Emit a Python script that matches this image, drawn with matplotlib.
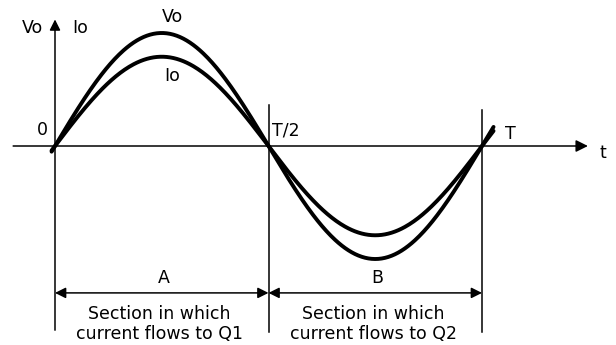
import numpy as np
import matplotlib
matplotlib.use("Agg")
import matplotlib.pyplot as plt

# waveform values (one period T = 1)
period = 1.0
amp_vo = 1.0
amp_io = 0.79
t_start, t_end = -0.008, 1.027

# section labels
sections = ["A", "B"]
section_text = ["Section in which\ncurrent flows to Q1",
                "Section in which\ncurrent flows to Q2"]
time_marks = ["0", "T/2", "T"]

plt.rcParams['font.family'] = ['DejaVu Sans']

fig = plt.figure(figsize=(6.16, 3.45), dpi=100)
ax = fig.add_axes([0, 0, 1, 1])
ax.set_xlim(-0.1288, 1.3138)
ax.set_ylim(-1.761, 1.292)
ax.axis("off")

t = np.linspace(t_start, t_end, 400)
vo = amp_vo * np.sin(2 * np.pi * t / period)
io = amp_io * np.sin(2 * np.pi * t / period)
ax.plot(t, vo, color="black", lw=2.8, solid_capstyle="round")
ax.plot(t, io, color="black", lw=2.8, solid_capstyle="round")

# axes with arrows
ax.annotate("", xy=(1.248, 0), xytext=(-0.098, 0),
            arrowprops=dict(arrowstyle="-|>", color="black", lw=1.1,
                            mutation_scale=18, shrinkA=0, shrinkB=0))
ax.annotate("", xy=(0, 1.12), xytext=(0, -1.63),
            arrowprops=dict(arrowstyle="-|>", color="black", lw=1.1,
                            mutation_scale=16, shrinkA=0, shrinkB=0))

# vertical markers at T/2 and T
ax.plot([0.5 * period, 0.5 * period], [0.363, -1.65], color="black", lw=1.1)
ax.plot([period, period], [0.32, -1.65], color="black", lw=1.1)

# section dimension arrows
y_dim = -1.30
bounds = [(0, 0.5 * period), (0.5 * period, period)]
for (a, b), lab, txt in zip(bounds, sections, section_text):
    ax.annotate("", xy=(b, y_dim), xytext=(a, y_dim),
                arrowprops=dict(arrowstyle="<|-|>", color="black", lw=1.1,
                                mutation_scale=16, shrinkA=0, shrinkB=0))
    mid = (a + b) / 2
    ax.text(mid + 0.005, y_dim + 0.135, lab, ha="center", va="center",
            fontsize=12.5)
    ax.text(mid - 0.005, -1.575, txt, ha="center", va="center",
            fontsize=12.5, linespacing=1.08)

fs = 12.5
ax.text(-0.052, 1.04, "Vo", ha="center", va="center", fontsize=fs)
ax.text(0.058, 1.04, "Io", ha="center", va="center", fontsize=fs)
ax.text(0.274, 1.14, "Vo", ha="center", va="center", fontsize=fs)
ax.text(0.274, 0.62, "Io", ha="center", va="center", fontsize=fs)
ax.text(-0.03, 0.14, time_marks[0], ha="center", va="center", fontsize=fs)
ax.text(0.508, 0.14, time_marks[1], ha="left", va="center", fontsize=fs)
ax.text(1.067, 0.11, time_marks[2], ha="center", va="center", fontsize=fs)
ax.text(1.282, -0.06, "t", ha="center", va="center", fontsize=fs)

fig.savefig("out.png", dpi=100)
